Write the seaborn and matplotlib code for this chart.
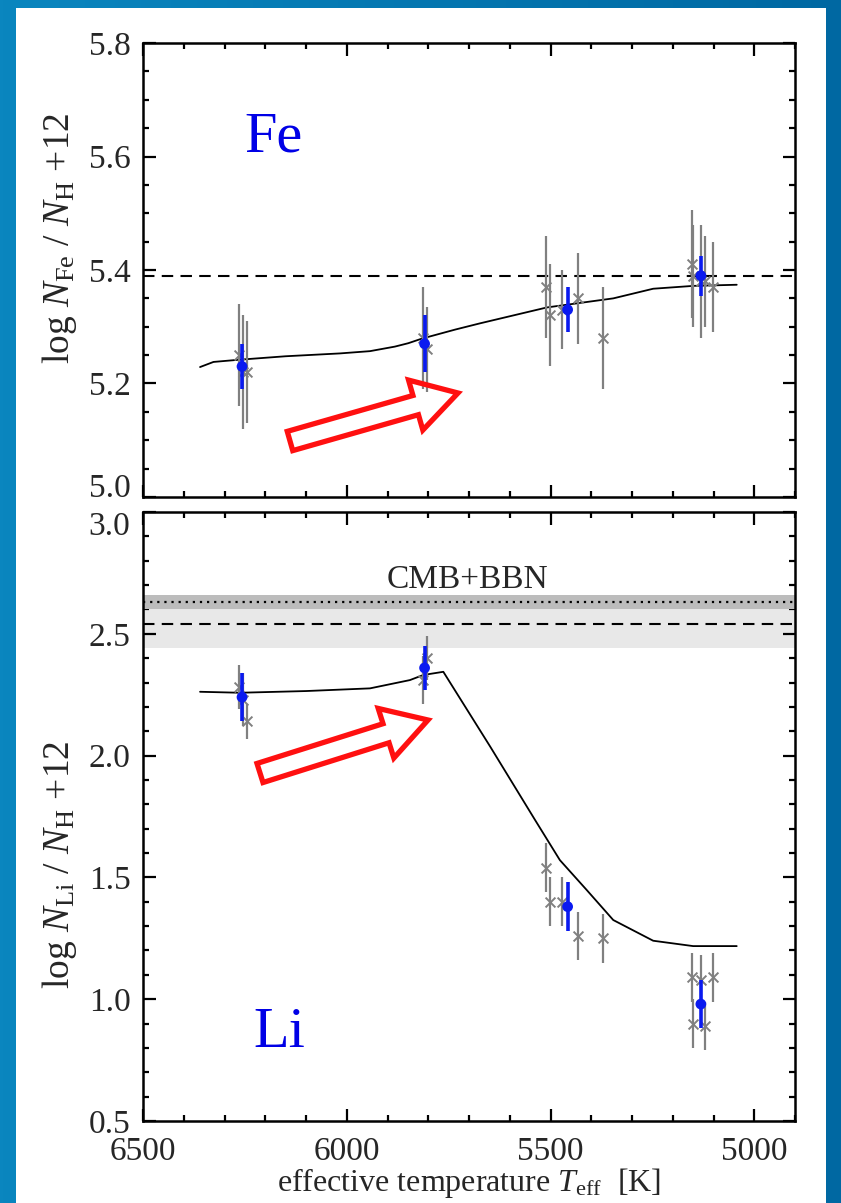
import numpy as np
import matplotlib
matplotlib.use("Agg")
import matplotlib.pyplot as plt
import seaborn as sns
from matplotlib.patches import Rectangle, FancyArrow
from matplotlib.transforms import IdentityTransform
from matplotlib.colors import LinearSegmentedColormap
from matplotlib.ticker import MultipleLocator, FormatStrFormatter

# ---- individual stars (grey crosses) ----
star_teff = [6264, 6254, 6244,
             5812, 5802,
             5511, 5501, 5473, 5432, 5370,
             5152, 5150, 5131, 5120, 5101]
star_fe = [5.25, 5.22, 5.22,
           5.28, 5.26,
           5.37, 5.32, 5.33, 5.35, 5.28,
           5.41, 5.39, 5.38, 5.38, 5.37]
star_fe_err = [0.09, 0.10, 0.09,
               0.09, 0.075,
               0.09, 0.09, 0.07, 0.08, 0.09,
               0.095, 0.09, 0.10, 0.08, 0.08]
star_li = [2.28, 2.23, 2.14,
           2.31, 2.40,
           1.54, 1.40, 1.40, 1.26, 1.25,
           1.09, 0.90, 1.08, 0.89, 1.09]
star_li_err = [0.09, 0.11, 0.07,
               0.10, 0.09,
               0.10, 0.10, 0.10, 0.10, 0.10,
               0.10, 0.10, 0.10, 0.10, 0.10]

# ---- group means (blue) ----
group_teff = [6257, 5809, 5458, 5131]
group_fe = [5.23, 5.27, 5.33, 5.39]
group_fe_err = [0.04, 0.05, 0.04, 0.035]
group_li = [2.24, 2.36, 1.38, 0.98]
group_li_err = [0.10, 0.09, 0.10, 0.10]

# ---- diffusion model tracks ----
model_fe_teff = [6360, 6327, 6295, 6262, 6150, 6017, 5943, 5882, 5849, 5816,
                 5734, 5673, 5509, 5346, 5248, 5150, 5043]
model_fe = [5.229, 5.238, 5.240, 5.242, 5.248, 5.253, 5.257, 5.265, 5.271, 5.279,
            5.295, 5.306, 5.334, 5.350, 5.367, 5.372, 5.374]
model_li_teff = [6360, 6262, 6100, 5943, 5845, 5812, 5763, 5648, 5538, 5477,
                 5411, 5346, 5248, 5150, 5043]
model_li = [2.262, 2.258, 2.265, 2.276, 2.310, 2.331, 2.344, 2.037, 1.736, 1.571,
            1.448, 1.325, 1.240, 1.218, 1.218]

fe_initial = 5.39
li_initial, li_initial_lo, li_initial_hi = 2.54, 2.44, 2.64
li_bbn, li_bbn_lo, li_bbn_hi = 2.63, 2.60, 2.66

sns.set_theme(style="ticks")
plt.rcParams["font.family"] = ["Liberation Serif", "DejaVu Serif"]
plt.rcParams["mathtext.fontset"] = "custom"
plt.rcParams["mathtext.rm"] = "Liberation Serif"
plt.rcParams["mathtext.it"] = "Liberation Serif:italic"

W, H = 841, 1203
fig = plt.figure(figsize=(W / 100, H / 100), dpi=100)

# blue frame with a soft gradient, white page on top
bg = fig.add_axes([0, 0, 1, 1], zorder=-20)
grad = np.linspace(0, 1, 256).reshape(1, -1)
cmap = LinearSegmentedColormap.from_list("frame", ["#0a86bf", "#0068a2"])
bg.imshow(grad, extent=[0, 1, 0, 1], aspect="auto", cmap=cmap)
bg.set_axis_off()
bg.add_patch(Rectangle((16 / W, 0), (826 - 16) / W, (H - 8) / H,
                       transform=bg.transAxes, facecolor="white", edgecolor="none"))

ax1 = fig.add_axes([143 / W, 1 - 497 / H, 652 / W, (497 - 43) / H])
ax2 = fig.add_axes([143 / W, 1 - 1121 / H, 652 / W, (1121 - 512) / H])

GREY = "#808080"
BLUE = "#0a1af0"
TICKFS = 24


def draw_panel(ax, mteff, mval, sval, serr, gval, gerr):
    sns.lineplot(x=mteff, y=mval, ax=ax, color="black", lw=1.3,
                 sort=False, estimator=None, zorder=3)
    ax.errorbar(star_teff, sval, yerr=serr, fmt="none", ecolor=GREY,
                elinewidth=1.6, capsize=0, zorder=4)
    sns.scatterplot(x=star_teff, y=sval, ax=ax, marker="x", color=GREY,
                    s=50, linewidth=1.4, zorder=5, legend=False)
    ax.errorbar(group_teff, gval, yerr=gerr, fmt="none", ecolor=BLUE,
                elinewidth=2.6, capsize=0, zorder=6)
    sns.scatterplot(x=group_teff, y=gval, ax=ax, marker="o", color=BLUE,
                    s=60, edgecolor="none", zorder=7, legend=False)


draw_panel(ax1, model_fe_teff, model_fe, star_fe, star_fe_err, group_fe, group_fe_err)
draw_panel(ax2, model_li_teff, model_li, star_li, star_li_err, group_li, group_li_err)

ax1.axhline(fe_initial, color="black", lw=1.5, ls=(0, (5.5, 3.5)), zorder=2)

ax2.axhspan(li_initial_lo, li_initial_hi, color="#e8e8e8", lw=0, zorder=0)
ax2.axhspan(li_bbn_lo, li_bbn_hi, color="#bcbcbc", lw=0, zorder=1)
ax2.axhline(li_bbn, color="black", lw=1.6, ls=(0, (1, 2.2)), zorder=2)
ax2.axhline(li_initial, color="black", lw=1.5, ls=(0, (5.5, 3.5)), zorder=2)
ax2.text(5704, 2.72, "CMB+BBN", ha="center", va="center", fontsize=24)

ax1.text(6179, 5.608, "Fe", color="#0000e6", fontsize=42, ha="center", va="baseline")
ax2.text(6165, 0.804, "Li", color="#0000e6", fontsize=42, ha="center", va="baseline")

for ax in (ax1, ax2):
    ax.set_xlim(6500, 4900)
    ax.xaxis.set_major_locator(MultipleLocator(500))
    ax.xaxis.set_minor_locator(MultipleLocator(100))
    ax.tick_params(which="both", direction="in", top=True, right=True,
                   width=1.6, color="black", labelsize=TICKFS, pad=9)
    ax.tick_params(which="major", length=9)
    ax.tick_params(which="minor", length=4.5)
    for sp in ax.spines.values():
        sp.set_linewidth(1.8)
        sp.set_color("black")
    ax.set_facecolor("none")

ax1.set_ylim(5.0, 5.8)
ax1.yaxis.set_major_locator(MultipleLocator(0.2))
ax1.yaxis.set_minor_locator(MultipleLocator(0.05))
ax1.yaxis.set_major_formatter(FormatStrFormatter("%.1f"))
ax1.tick_params(axis="x", labelbottom=False)

ax2.set_ylim(0.5, 3.0)
ax2.yaxis.set_major_locator(MultipleLocator(0.5))
ax2.yaxis.set_minor_locator(MultipleLocator(0.1))
ax2.yaxis.set_major_formatter(FormatStrFormatter("%.1f"))
ax2.tick_params(axis="x", pad=11)

ax1.set_ylabel(r"log $N_{\mathrm{Fe}}$ / $N_{\mathrm{H}}$ +12", fontsize=27)
ax2.set_ylabel(r"log $N_{\mathrm{Li}}$ / $N_{\mathrm{H}}$ +12", fontsize=27)
ax1.yaxis.set_label_coords(-0.098, 0.57)
ax2.yaxis.set_label_coords(-0.098, 0.42)
ax2.set_xlabel(r"effective temperature $T_{\mathrm{eff}}$  [K]", fontsize=23)
ax2.xaxis.set_label_coords(0.5, -0.074)
ax1.set_xlabel("")

# keep the shared-edge labels (5.0 and 3.0) from colliding
fig.canvas.draw()
for t in ax1.yaxis.get_major_ticks():
    if abs(t.get_loc() - 5.0) < 1e-6:
        t.label1.set_verticalalignment("baseline")
for t in ax2.yaxis.get_major_ticks():
    if abs(t.get_loc() - 3.0) < 1e-6:
        t.label1.set_verticalalignment("top")

# hollow red arrows, placed in pixel coordinates
for (x0, y0, x1, y1) in [(290, 441, 458, 393), (260, 773, 428, 720)]:
    arr = FancyArrow(x0, H - y0, x1 - x0, y0 - y1, width=20, head_width=52,
                     head_length=44, length_includes_head=True,
                     transform=IdentityTransform(), facecolor="none",
                     edgecolor="#ff1010", lw=3.8, joinstyle="miter", zorder=10)
    fig.add_artist(arr)

fig.savefig("out.png", dpi=100)
